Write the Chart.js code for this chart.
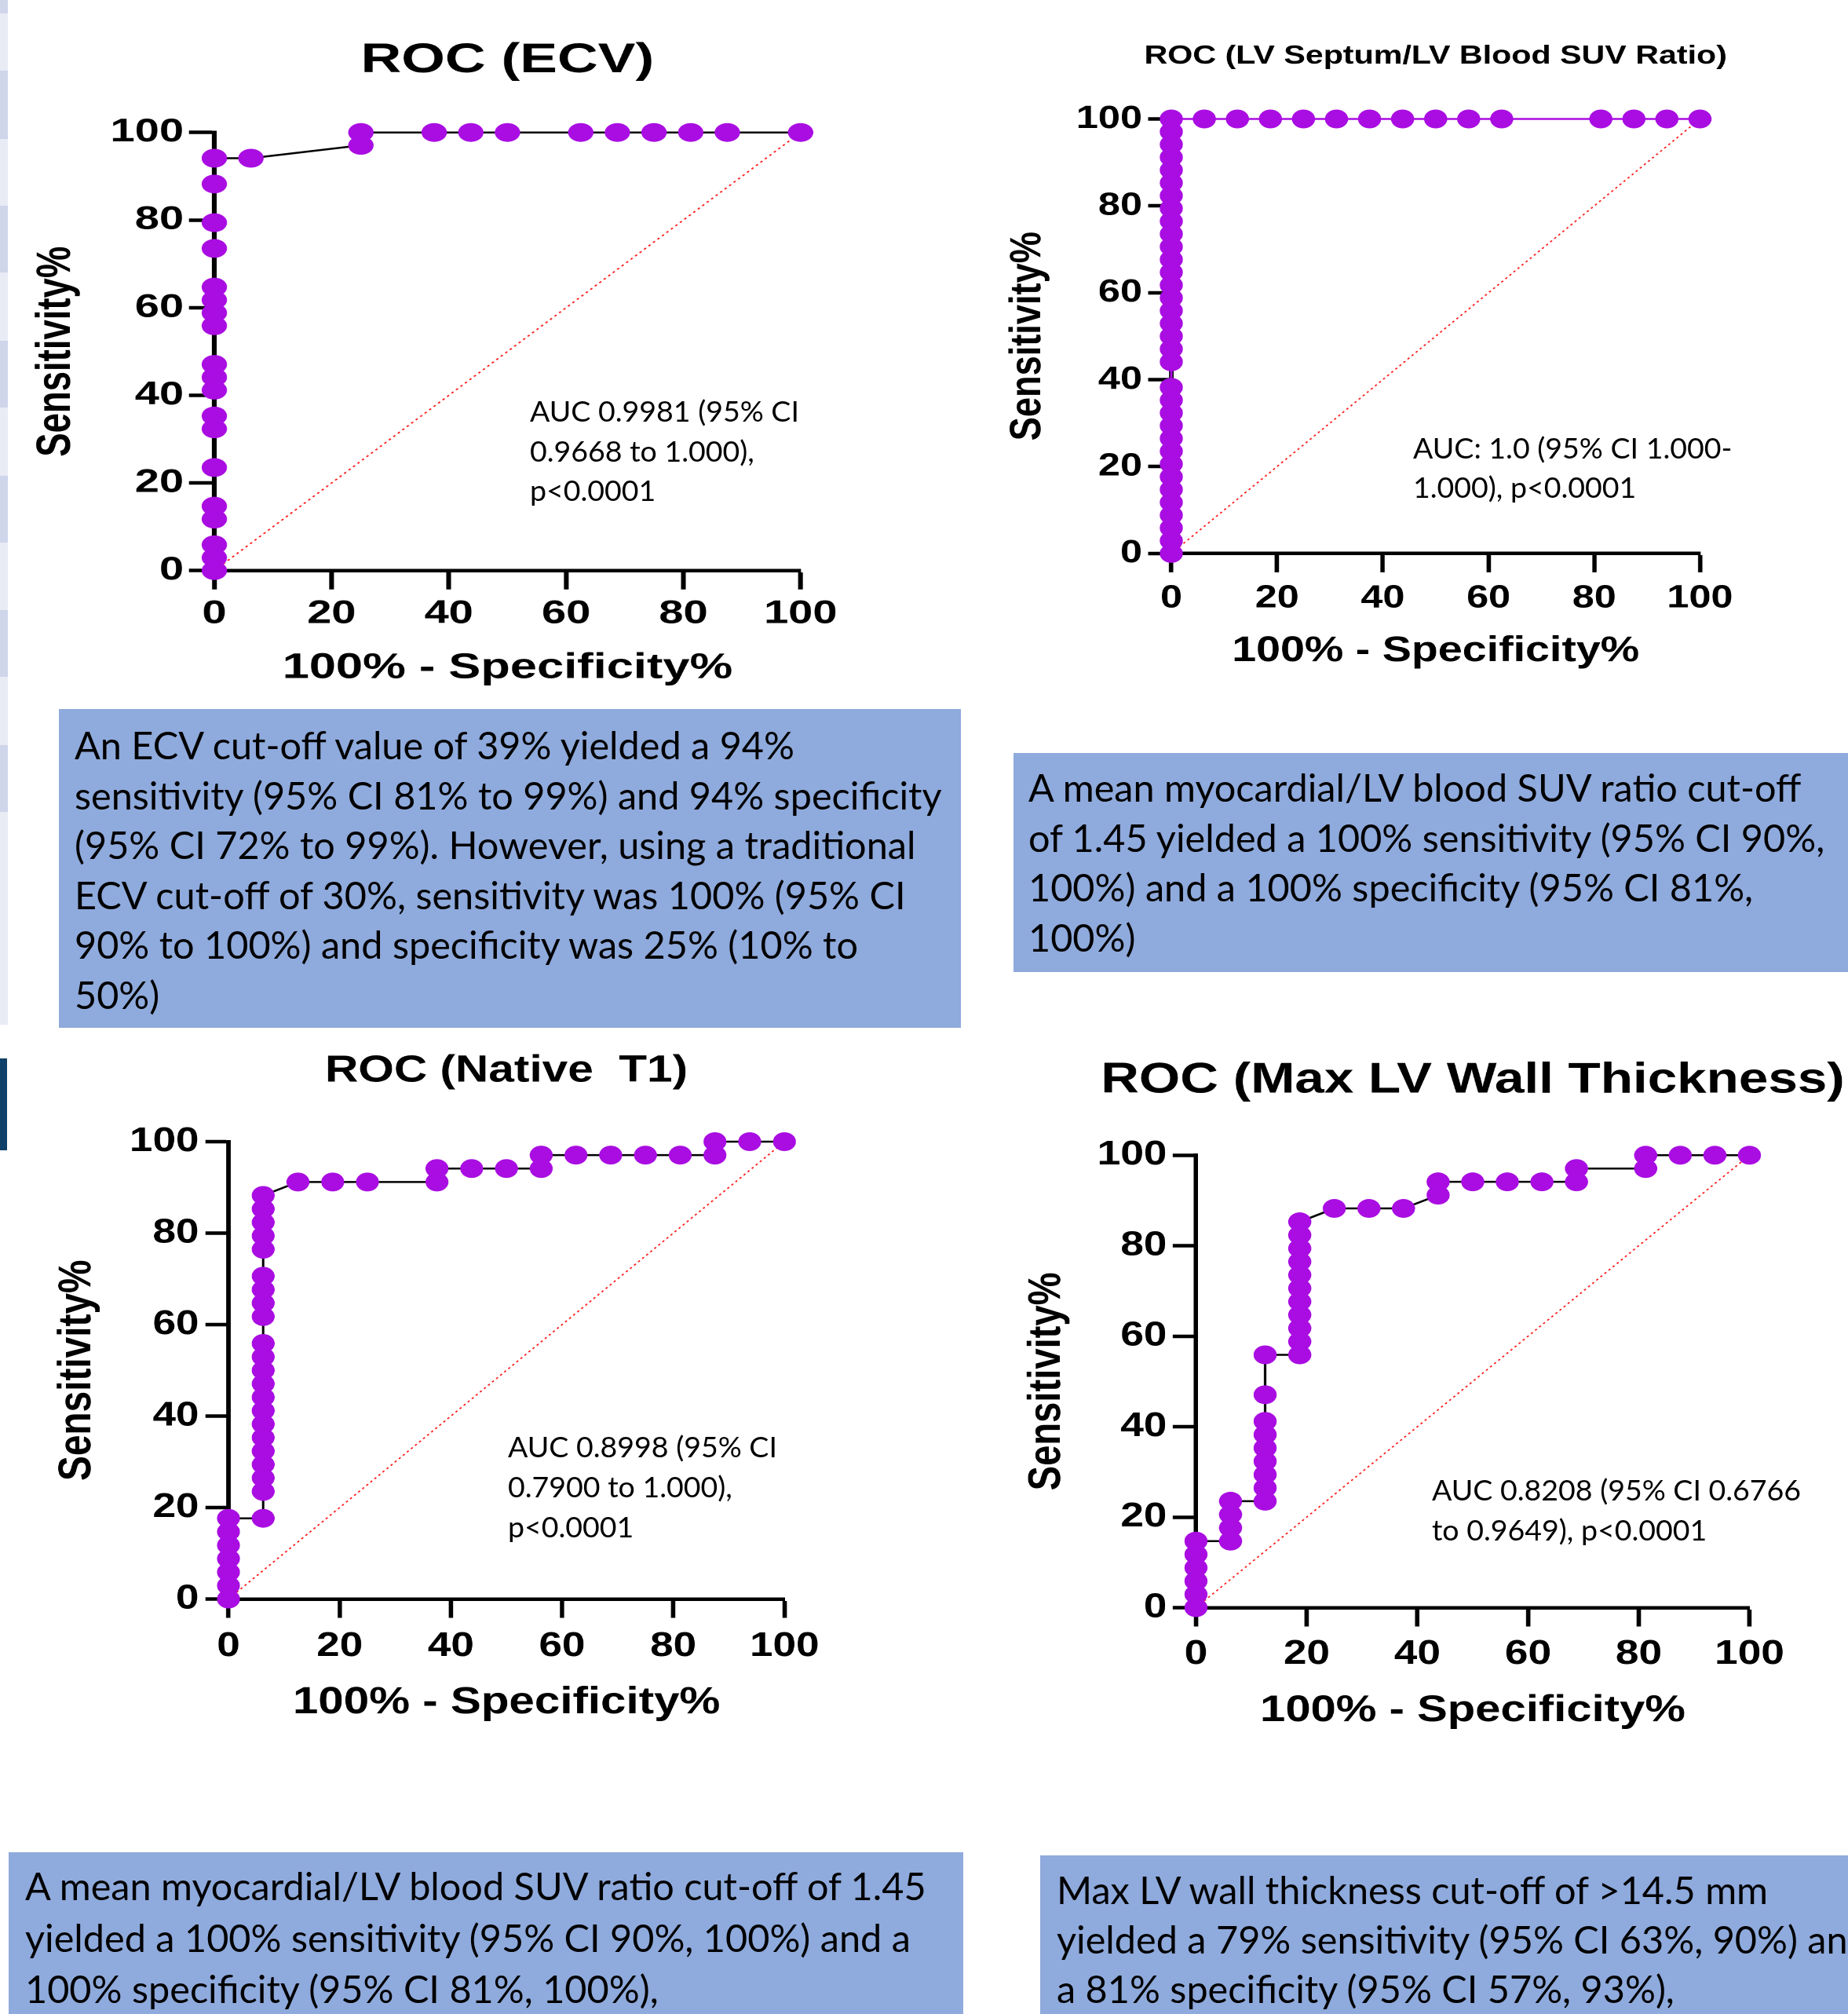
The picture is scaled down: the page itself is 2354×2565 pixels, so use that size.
<!DOCTYPE html>
<html>
<head>
<meta charset="utf-8">
<script src="https://cdn.jsdelivr.net/npm/chart.js@4.4.1/dist/chart.umd.min.js"></script>
<style>
  html, body { margin: 0; padding: 0; background: #fff; }
  body { width: 2354px; height: 2565px; position: relative; overflow: hidden; }
  .strip { position: absolute; left: 0; width: 10px; }
  .wrap { position: absolute; transform-origin: 0 0; }
  .note { position: absolute; font-family: Lato, 'Noto Sans', sans-serif; font-size: 37.5px; color: #000; white-space: nowrap; }
  .box { position: absolute; background: #8faadc; overflow: hidden; font-family: Lato, 'Noto Sans', sans-serif;
         font-size: 48.6px; color: #000; white-space: nowrap; box-sizing: border-box; }
</style>
</head>
<body>

<!-- edge of the slide table on the left -->
<div class="strip" style="top:0;height:17px;background:#cfd5ea"></div>
<div class="strip" style="top:17px;height:73px;background:#e9ebf5"></div>
<div class="strip" style="top:90px;height:87px;background:#cfd5ea"></div>
<div class="strip" style="top:177px;height:85px;background:#e9ebf5"></div>
<div class="strip" style="top:262px;height:85px;background:#cfd5ea"></div>
<div class="strip" style="top:347px;height:87px;background:#e9ebf5"></div>
<div class="strip" style="top:434px;height:85px;background:#cfd5ea"></div>
<div class="strip" style="top:519px;height:87px;background:#e9ebf5"></div>
<div class="strip" style="top:606px;height:85px;background:#cfd5ea"></div>
<div class="strip" style="top:691px;height:86px;background:#e9ebf5"></div>
<div class="strip" style="top:777px;height:85px;background:#cfd5ea"></div>
<div class="strip" style="top:862px;height:87px;background:#e9ebf5"></div>
<div class="strip" style="top:949px;height:85px;background:#cfd5ea"></div>
<div class="strip" style="top:1034px;height:271px;background:#e9ebf5"></div>
<div class="strip" style="top:1348px;height:117px;width:9px;background:#0f4069"></div>

<div class="wrap" id="w1"><canvas id="c1"></canvas></div>
<div class="wrap" id="w2"><canvas id="c2"></canvas></div>
<div class="wrap" id="w3"><canvas id="c3"></canvas></div>
<div class="wrap" id="w4"><canvas id="c4"></canvas></div>

<div class="note" style="left:675px;top:498px;line-height:50.5px">AUC 0.9981 (95% CI<br>0.9668 to 1.000),<br>p&lt;0.0001</div>
<div class="note" style="left:1800px;top:545px;line-height:50px">AUC: 1.0 (95% CI 1.000-<br>1.000), p&lt;0.0001</div>
<div class="note" style="left:647px;top:1816px;line-height:51px">AUC 0.8998 (95% CI<br>0.7900 to 1.000),<br>p&lt;0.0001</div>
<div class="note" style="left:1824px;top:1871px;line-height:51px">AUC 0.8208 (95% CI 0.6766<br>to 0.9649), p&lt;0.0001</div>

<div class="box" style="left:75px;top:903px;width:1149px;height:406px;padding:14px 0 0 20px;line-height:63.5px">An ECV cut-off value of 39% yielded a 94%<br>sensitivity (95% CI 81% to 99%) and 94% specificity<br>(95% CI 72% to 99%). However, using a traditional<br>ECV cut-off of 30%, sensitivity was 100% (95% CI<br>90% to 100%) and specificity was 25% (10% to<br>50%)</div>
<div class="box" style="left:1291px;top:959px;width:1063px;height:279px;padding:12px 0 0 19px;line-height:63.7px">A mean myocardial/LV blood SUV ratio cut-off<br>of 1.45 yielded a 100% sensitivity (95% CI 90%,<br>100%) and a 100% specificity (95% CI 81%,<br>100%)</div>
<div class="box" style="left:11px;top:2359px;width:1216px;height:206px;padding:10px 0 0 21px;line-height:65.5px">A mean myocardial/LV blood SUV ratio cut-off of 1.45<br>yielded a 100% sensitivity (95% CI 90%, 100%) and a<br>100% specificity (95% CI 81%, 100%),</div>
<div class="box" style="left:1325px;top:2363px;width:1029px;height:202px;padding:12px 0 0 21px;line-height:63px">Max LV wall thickness cut-off of &gt;14.5 mm<br>yielded a 79% sensitivity (95% CI 63%, 90%) and<br>a 81% specificity (95% CI 57%, 93%),</div>

<script>
const purple = '#a90de2';

// ROC (ECV)
const ecvFpr = [0, 0, 0, 0, 0, 0, 0, 0, 0, 0, 0, 0, 0, 0, 0, 0, 0, 0, 0,
  6.25, 25, 25, 37.5, 43.75, 50, 62.5, 68.75, 75, 81.25, 87.5, 100];
const ecvSens = [0, 2.94, 5.88, 11.76, 14.71, 23.53, 32.35, 35.29, 41.18, 44.12, 47.06, 55.88, 58.82, 61.76, 64.71, 73.53, 79.41, 88.24, 94.12,
  94.12, 97.06, 100, 100, 100, 100, 100, 100, 100, 100, 100, 100];

// ROC (LV Septum/LV Blood SUV Ratio)
const suvFpr = [0, 0, 0, 0, 0, 0, 0, 0, 0, 0, 0, 0, 0, 0,
  0, 0, 0, 0, 0, 0, 0, 0, 0, 0, 0, 0, 0, 0, 0, 0, 0, 0, 0, 0,
  6.25, 12.5, 18.75, 25, 31.25, 37.5, 43.75, 50, 56.25, 62.5, 81.25, 87.5, 93.75, 100];
const suvSens = [0, 2.94, 5.88, 8.82, 11.76, 14.71, 17.65, 20.59, 23.53, 26.47, 29.41, 32.35, 35.29, 38.24,
  44.12, 47.06, 50, 52.94, 55.88, 58.82, 61.76, 64.71, 67.65, 70.59, 73.53, 76.47, 79.41, 82.35, 85.29, 88.24, 91.18, 94.12, 97.06, 100,
  100, 100, 100, 100, 100, 100, 100, 100, 100, 100, 100, 100, 100, 100];

// ROC (Native T1)
const t1Fpr = [0, 0, 0, 0, 0, 0, 0,
  6.25, 6.25, 6.25, 6.25, 6.25, 6.25, 6.25, 6.25, 6.25, 6.25, 6.25, 6.25, 6.25,
  6.25, 6.25, 6.25, 6.25, 6.25, 6.25, 6.25, 6.25, 6.25,
  12.5, 18.75, 25, 37.5, 37.5, 43.75, 50, 56.25, 56.25, 62.5, 68.75, 75, 81.25, 87.5, 87.5, 93.75, 100];
const t1Sens = [0, 2.94, 5.88, 8.82, 11.76, 14.71, 17.65,
  17.65, 23.53, 26.47, 29.41, 32.35, 35.29, 38.24, 41.18, 44.12, 47.06, 50, 52.94, 55.88,
  61.76, 64.71, 67.65, 70.59, 76.47, 79.41, 82.35, 85.29, 88.24,
  91.18, 91.18, 91.18, 91.18, 94.12, 94.12, 94.12, 94.12, 97.06, 97.06, 97.06, 97.06, 97.06, 97.06, 100, 100, 100];

// ROC (Max LV Wall Thickness)
const wallFpr = [0, 0, 0, 0, 0, 0,
  6.25, 6.25, 6.25, 6.25,
  12.5, 12.5, 12.5, 12.5, 12.5, 12.5, 12.5, 12.5, 12.5,
  18.75, 18.75, 18.75, 18.75, 18.75, 18.75, 18.75, 18.75, 18.75, 18.75, 18.75,
  25, 31.25, 37.5, 43.75, 43.75, 50, 56.25, 62.5, 68.75, 68.75, 81.25, 81.25, 87.5, 93.75, 100];
const wallSens = [0, 2.94, 5.88, 8.82, 11.76, 14.71,
  14.71, 17.65, 20.59, 23.53,
  23.53, 26.47, 29.41, 32.35, 35.29, 38.24, 41.18, 47.06, 55.88,
  55.88, 58.82, 61.76, 64.71, 67.65, 70.59, 73.53, 76.47, 79.41, 82.35, 85.29,
  88.24, 88.24, 88.24, 91.18, 94.12, 94.12, 94.12, 94.12, 94.12, 97.06, 97.06, 100, 100, 100, 100];

const chanceFpr = [0, 100];
const chanceSens = [0, 100];

const axisTicks = [0, 20, 40, 60, 80, 100];

Chart.defaults.font.family = "'Liberation Sans', Arial, sans-serif";
Chart.defaults.color = '#000';

// the pasted graphs in the slide are stretched sideways, so each canvas is
// laid out in its own units and scaled by s; all numbers below are page px
function rocChart(n, title, fpr, sens, lineColor, g) {
  const s = g.s;
  const left = (g.x0 - g.L) / s, right = (g.x100 - g.L) / s;
  // canvas symmetric round the plot so the full-width title sits centred on it
  const wc = left + right, hc = g.H;
  const top = g.y100 - g.T, bottom = g.y0 - g.T;
  const tl = 24;
  const titleTop = g.titleY - g.T - g.titleSize / 2;

  const wrap = document.getElementById('w' + n);
  wrap.style.left = g.L + 'px';
  wrap.style.top = g.T + 'px';
  wrap.style.transform = 'scaleX(' + s + ')';
  const canvas = document.getElementById('c' + n);
  canvas.width = wc;
  canvas.height = hc;

  const axisStyle = {
    border: { display: true, color: '#000', width: 4.5 },
    grid: { drawOnChartArea: false, drawTicks: true, tickLength: tl, tickWidth: 4.5, tickColor: '#000', color: '#000' }
  };
  const tickFont = { size: g.tickSize, weight: 'bold', lineHeight: 1 };
  const axisFont = { size: g.axisSize, weight: 'bold', lineHeight: 1 };

  new Chart(canvas.getContext('2d'), {
    type: 'scatter',
    data: {
      datasets: [{
        data: fpr.map((x, i) => ({ x: x, y: sens[i] })),
        showLine: true,
        borderColor: lineColor,
        borderWidth: 2.5,
        pointRadius: 12,
        pointBackgroundColor: purple,
        pointBorderColor: purple,
        pointBorderWidth: 0,
        clip: false,
        order: 0
      }, {
        data: chanceFpr.map((x, i) => ({ x: x, y: chanceSens[i] })),
        showLine: true,
        borderColor: '#ff1a1a',
        borderWidth: 1.6,
        borderDash: [2.5, 3.5],
        pointRadius: 0,
        clip: false,
        order: 1
      }]
    },
    options: {
      responsive: false,
      animation: false,
      devicePixelRatio: 2,
      layout: { padding: 0 },
      plugins: {
        legend: { display: false },
        tooltip: { enabled: false },
        title: {
          display: true,
          text: title,
          fullSize: true,
          color: '#000',
          font: { size: g.titleSize, weight: 'bold', lineHeight: 1 },
          padding: { top: titleTop, bottom: top - titleTop - g.titleSize }
        }
      },
      scales: {
        x: Object.assign({
          type: 'linear', min: 0, max: 100,
          afterBuildTicks: sc => { sc.ticks = axisTicks.map(v => ({ value: v })); },
          afterFit: sc => { sc.height = hc - bottom; },
          ticks: { color: '#000', padding: g.xLabelY - g.y0 - tl - g.tickSize / 2, font: tickFont, maxRotation: 0 },
          title: { display: true, text: '100% - Specificity%', color: '#000', font: axisFont,
                   padding: { top: 0, bottom: hc - (g.xTitleY - g.T) - g.axisSize / 2 } }
        }, axisStyle),
        y: Object.assign({
          type: 'linear', min: 0, max: 100,
          afterBuildTicks: sc => { sc.ticks = axisTicks.map(v => ({ value: v })); },
          afterFit: sc => { sc.width = left; },
          ticks: { color: '#000', padding: (g.x0 - g.yLabelRight) / s - tl, font: tickFont },
          title: { display: true, text: 'Sensitivity%', color: '#000', font: axisFont,
                   padding: { top: (g.yTitleX - g.L) / s - g.axisSize / 2, bottom: 0 } }
        }, axisStyle),
        // empty spacer on the right, keeps the plot where the slide has it
        yRight: {
          type: 'linear', position: 'right', min: 0, max: 100,
          ticks: { display: false },
          grid: { display: false },
          border: { display: false },
          afterFit: sc => { sc.width = wc - right; }
        }
      }
    }
  });
}

rocChart(1, 'ROC (ECV)', ecvFpr, ecvSens, '#000', {
  s: 1.35, L: 20, T: 0, H: 900,
  x0: 273, x100: 1021, y100: 168.7, y0: 726.7,
  titleY: 77.5, titleSize: 53, axisSize: 45.5, yTitleX: 72, xTitleY: 851,
  tickSize: 41.5, yLabelRight: 234, xLabelY: 782
});

rocChart(2, 'ROC (LV Septum/LV Blood SUV Ratio)', suvFpr, suvSens, purple, {
  s: 1.23, L: 1250, T: 0, H: 880,
  x0: 1492, x100: 2165.6, y100: 151.5, y0: 704.9,
  titleY: 71.7, titleSize: 33.5, axisSize: 45.2, yTitleX: 1310, xTitleY: 829.4,
  tickSize: 41, yLabelRight: 1455, xLabelY: 762
});

rocChart(3, 'ROC (Native  T1)', t1Fpr, t1Sens, '#000', {
  s: 1.22, L: 40, T: 1300, H: 920,
  x0: 291, x100: 1000, y100: 1454, y0: 2036.5,
  titleY: 1364.5, titleSize: 48, axisSize: 47.8, yTitleX: 98.7, xTitleY: 2169,
  tickSize: 43.5, yLabelRight: 253.5, xLabelY: 2097
});

rocChart(4, 'ROC (Max LV Wall Thickness)', wallFpr, wallSens, '#000', {
  s: 1.23, L: 1280, T: 1300, H: 920,
  x0: 1523.4, x100: 2228.5, y100: 1471.3, y0: 2047.5,
  titleY: 1376.6, titleSize: 54.8, axisSize: 47.2, yTitleX: 1334, xTitleY: 2179,
  tickSize: 43.3, yLabelRight: 1486.5, xLabelY: 2107
});
</script>
</body>
</html>
